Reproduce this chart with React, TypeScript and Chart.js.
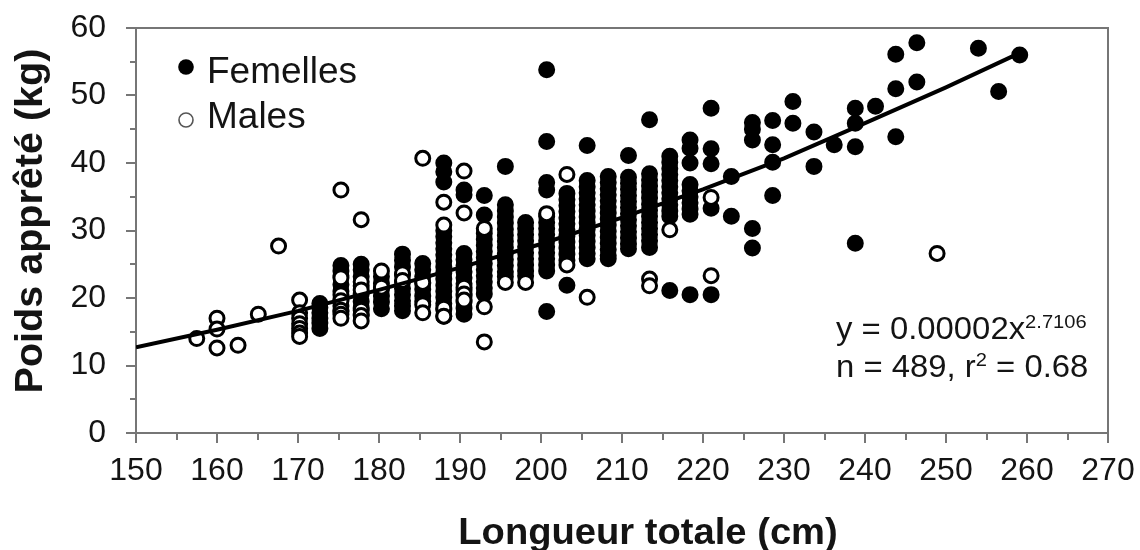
import React, { useEffect, useRef } from 'react';
import { Chart, registerables } from 'chart.js';

Chart.register(...registerables);

// ---------- data ----------
const femaleLengths = [
  172.7, 175.3, 177.8, 180.3, 182.9, 185.4, 188.0, 190.5, 193.0, 195.6, 198.1,
  200.7, 203.2, 205.7, 208.3, 210.8, 213.4, 215.9, 218.4, 221.0, 223.5, 226.1,
  228.6, 231.1, 233.7, 236.2, 238.8, 241.3, 243.8, 246.4, 254.0, 256.5, 259.1,
];
const femaleWeights = [
  [15.5, 16.3, 17.0, 17.8, 18.6, 19.2],
  [24.8, 24.0, 23.3, 22.0, 21.0, 19.8, 18.8, 18.0],
  [25.0, 24.2, 23.2, 21.8, 20.6, 19.5, 18.5, 17.6],
  [23.2, 22.2, 21.3, 20.3, 19.4, 18.4],
  [26.5, 25.6, 24.6, 23.5, 22.4, 21.4, 20.5, 19.6, 18.8, 18.1],
  [25.1, 24.2, 23.2, 22.2, 21.3, 20.3, 19.5],
  [40.0, 38.7, 37.2, 30.0, 29.1, 28.2, 27.3, 26.4, 25.5, 24.6, 23.7, 22.8, 21.9, 21.0, 20.1, 19.2, 18.3, 17.3],
  [36.0, 35.3, 26.6, 25.7, 24.8, 23.9, 23.0, 22.1, 21.2, 20.3, 19.4, 18.5, 17.6],
  [35.2, 32.3, 29.6, 28.7, 27.8, 26.9, 26.0, 25.1, 24.2, 23.3, 22.4, 21.5, 20.6],
  [39.5, 33.8, 32.9, 32.0, 31.1, 30.2, 29.3, 28.4, 27.5, 26.6, 25.7, 24.8, 23.9, 23.2],
  [31.2, 30.3, 29.4, 28.5, 27.6, 26.7, 25.8, 24.9, 24.0, 23.3],
  [53.8, 43.2, 37.1, 36.0, 32.1, 31.2, 30.3, 29.4, 28.5, 27.6, 26.7, 25.8, 24.9, 24.0, 18.0],
  [35.5, 34.6, 33.7, 32.8, 31.9, 31.0, 30.1, 29.2, 28.3, 27.4, 26.5, 25.6, 21.9],
  [42.6, 37.4, 36.5, 35.6, 34.7, 33.8, 32.9, 32.0, 31.1, 30.2, 29.3, 28.4, 27.5, 26.6, 25.8],
  [38.0, 37.1, 36.2, 35.3, 34.4, 33.5, 32.6, 31.7, 30.8, 29.9, 29.0, 28.1, 27.2, 26.3, 25.8],
  [41.1, 37.9, 37.0, 36.1, 35.2, 34.3, 33.4, 32.5, 31.6, 30.7, 29.8, 28.9, 28.0, 27.3],
  [46.4, 38.4, 37.5, 36.6, 35.7, 34.8, 33.9, 33.0, 32.1, 31.2, 30.3, 29.4, 28.5, 27.5],
  [41.0, 40.1, 39.2, 38.3, 37.4, 36.5, 35.6, 34.7, 33.8, 32.9, 32.1, 21.1],
  [43.4, 42.2, 40.0, 36.8, 35.9, 35.0, 34.1, 33.2, 32.4, 20.5],
  [48.1, 42.1, 39.9, 33.3, 20.5],
  [38.0, 32.1],
  [46.0, 45.0, 43.4, 30.3, 27.4],
  [46.3, 42.7, 40.1, 35.2],
  [49.1, 45.9],
  [44.6, 39.5],
  [42.7],
  [48.1, 45.9, 42.4, 28.1],
  [48.4],
  [56.1, 51.0, 43.9],
  [57.8, 52.0],
  [57.0],
  [50.6],
  [56.0],
];

const maleLengths = [
  157.5, 160.0, 162.6, 165.1, 167.6, 170.2, 175.3, 177.8, 180.3, 182.9, 185.4,
  188.0, 190.5, 193.0, 195.6, 198.1, 200.7, 203.2, 205.7, 213.4, 215.9, 221.0, 248.9,
];
const maleWeights = [
  [14.0],
  [17.0, 15.4, 12.6],
  [13.0],
  [17.6],
  [27.7],
  [19.7, 17.8, 17.0, 16.2, 15.5, 14.8, 14.3],
  [36.0, 23.0, 20.5, 19.6, 18.2, 17.6, 17.0],
  [31.6, 22.4, 21.2, 18.2, 17.4, 16.6],
  [24.0, 21.6],
  [23.6, 22.6],
  [40.7, 22.3, 19.0, 17.8],
  [34.2, 30.8, 18.5, 17.3],
  [38.8, 32.6, 21.6, 20.6, 19.7],
  [30.3, 18.7, 13.5],
  [22.3],
  [22.3],
  [32.5],
  [38.3, 24.9],
  [20.1],
  [22.8, 21.8],
  [30.1],
  [34.9, 23.3],
  [26.6],
];

// fitted power curve
const fitLengths = [150, 160, 170, 180, 190, 200, 210, 220, 230, 240, 250, 258.2];
const fitWeights = [12.7, 15.3, 18.1, 21.2, 24.5, 28.0, 31.9, 36.1, 40.7, 45.9, 51.2, 55.8];

const xMin = 150, xMax = 270, xStep = 10;
const yMin = 0, yMax = 60, yStep = 10;

const seriesLabels = ['Femelles', 'Males'];
const xTitle = 'Longueur totale (cm)';
const yTitle = 'Poids apprêté (kg)';
const eqMain = 'y = 0.00002x';
const eqExp = '2.7106';
const statsA = 'n = 489, r';
const statsSup = '2';
const statsB = ' = 0.68';

// ---------- helpers ----------
const FONT = '"Liberation Sans", Arial, Helvetica, sans-serif';
const AXIS = '#767676';
const TEXT = '#141414';

function toPoints(lengths: number[], weights: number[][]) {
  const pts: { x: number; y: number }[] = [];
  lengths.forEach((L, i) => weights[i].forEach((w) => pts.push({ x: L, y: w })));
  return pts;
}

function drawText(
  ctx: CanvasRenderingContext2D,
  text: string,
  x: number,
  y: number,
  font: string,
  align: CanvasTextAlign = 'left',
  sx = 1,
  rot = 0,
  color = TEXT
) {
  ctx.save();
  ctx.translate(x, y);
  if (rot) ctx.rotate(rot);
  ctx.scale(sx, 1);
  ctx.font = font;
  ctx.fillStyle = color;
  ctx.textAlign = align;
  ctx.textBaseline = 'alphabetic';
  ctx.fillText(text, 0, 0);
  ctx.restore();
}

const decorPlugin = {
  id: 'decor',
  afterDraw(chart: any) {
    const { ctx, chartArea: a } = chart;
    const xs = chart.scales.x;
    const ys = chart.scales.y;
    ctx.save();
    // top and right frame
    ctx.strokeStyle = AXIS;
    ctx.lineWidth = 2;
    ctx.beginPath();
    ctx.moveTo(a.left, a.top);
    ctx.lineTo(a.right, a.top);
    ctx.lineTo(a.right, a.bottom);
    ctx.stroke();
    // tick marks (major + minor, outside)
    ctx.beginPath();
    for (let v = xMin; v <= xMax; v += xStep / 2) {
      const px = Math.round(xs.getPixelForValue(v));
      const len = (v - xMin) % xStep === 0 ? 10 : 7;
      ctx.moveTo(px, a.bottom);
      ctx.lineTo(px, a.bottom + len);
    }
    for (let v = yMin; v <= yMax; v += yStep / 2) {
      const py = Math.round(ys.getPixelForValue(v));
      const len = (v - yMin) % yStep === 0 ? 10 : 6;
      ctx.moveTo(a.left - len, py);
      ctx.lineTo(a.left, py);
    }
    ctx.stroke();

    // axis titles
    drawText(ctx, xTitle, 648, 544, `bold 36px ${FONT}`, 'center', 1.06);
    drawText(ctx, yTitle, 42, 221, `bold 38px ${FONT}`, 'center', 1.04, -Math.PI / 2);

    // legend
    ctx.fillStyle = '#000';
    ctx.beginPath();
    ctx.arc(186, 67, 7.8, 0, Math.PI * 2);
    ctx.fill();
    ctx.strokeStyle = '#555';
    ctx.lineWidth = 1.6;
    ctx.beginPath();
    ctx.arc(186, 120, 7, 0, Math.PI * 2);
    ctx.stroke();
    drawText(ctx, seriesLabels[0], 207, 83, `37px ${FONT}`);
    drawText(ctx, seriesLabels[1], 207, 128, `37px ${FONT}`);

    // equation annotation
    const big = `31px ${FONT}`;
    const small = `19px ${FONT}`;
    const sx = 1.06;
    const left = 836;
    ctx.font = big;
    const w1 = ctx.measureText(eqMain).width * sx;
    drawText(ctx, eqMain, left, 339, big, 'left', sx);
    drawText(ctx, eqExp, left + w1, 328, small, 'left', sx);
    ctx.font = big;
    const w2 = ctx.measureText(statsA).width * sx;
    drawText(ctx, statsA, left, 377, big, 'left', sx);
    ctx.font = small;
    const w3 = ctx.measureText(statsSup).width * sx;
    drawText(ctx, statsSup, left + w2, 366, small, 'left', sx);
    drawText(ctx, statsB, left + w2 + w3, 377, big, 'left', sx);
    ctx.restore();
  },
};

export default function App() {
  const ref = useRef<HTMLCanvasElement | null>(null);

  useEffect(() => {
    if (!ref.current) return;
    const chart = new Chart(ref.current, {
      type: 'scatter',
      data: {
        datasets: [
          {
            type: 'line',
            label: 'fit',
            data: fitLengths.map((x, i) => ({ x, y: fitWeights[i] })),
            borderColor: '#000',
            borderWidth: 4,
            pointRadius: 0,
            fill: false,
            tension: 0,
            order: 0,
          } as any,
          {
            label: seriesLabels[1],
            data: toPoints(maleLengths, maleWeights),
            backgroundColor: '#fff',
            borderColor: '#000',
            borderWidth: 3,
            pointRadius: 7,
            order: 1,
          },
          {
            label: seriesLabels[0],
            data: toPoints(femaleLengths, femaleWeights),
            backgroundColor: '#000',
            borderColor: '#000',
            borderWidth: 3,
            pointRadius: 7,
            order: 2,
          },
        ],
      },
      options: {
        responsive: false,
        animation: false,
        events: [],
        layout: { padding: { left: 0, top: 28, right: 32, bottom: 0 } },
        plugins: {
          legend: { display: false },
          tooltip: { enabled: false },
          title: { display: false },
        },
        scales: {
          x: {
            type: 'linear',
            min: xMin,
            max: xMax,
            grid: { display: false, drawTicks: false },
            border: { display: true, color: AXIS, width: 2 },
            ticks: {
              stepSize: xStep,
              autoSkip: false,
              maxRotation: 0,
              padding: 19,
              color: TEXT,
              font: { family: FONT, size: 32 },
            },
            afterFit: (s: any) => {
              s.height = 117;
              s.paddingLeft = 0;
              s.paddingRight = 0;
            },
          },
          y: {
            type: 'linear',
            min: yMin,
            max: yMax,
            grid: { display: false, drawTicks: false },
            border: { display: true, color: AXIS, width: 2 },
            ticks: {
              stepSize: yStep,
              padding: 30,
              color: TEXT,
              font: { family: FONT, size: 32 },
            },
            afterFit: (s: any) => {
              s.width = 136;
              s.paddingTop = 0;
              s.paddingBottom = 0;
            },
          },
        },
      },
      plugins: [decorPlugin],
    });
    return () => chart.destroy();
  }, []);

  return (
    <div style={{ position: 'absolute', left: 0, top: 0, width: 1140, height: 550, background: '#fff' }}>
      <canvas ref={ref} width={1140} height={550} style={{ display: 'block' }} />
    </div>
  );
}
